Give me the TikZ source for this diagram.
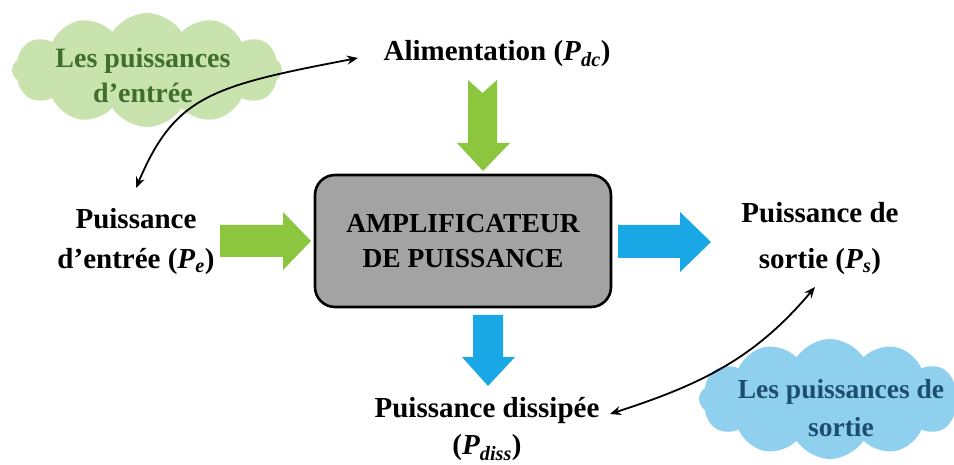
\documentclass[tikz,border=0pt]{standalone}
\usepackage{fontspec}
\setmainfont{Liberation Serif}
\usetikzlibrary{shapes.symbols,arrows.meta}
\definecolor{leafgreen}{HTML}{8CC63F}
\definecolor{skyblue}{HTML}{1AA7E6}
\definecolor{cloudgreen}{HTML}{C9E3AE}
\definecolor{cloudblue}{HTML}{8FD0EF}
\definecolor{txtgreen}{HTML}{3F6E2E}
\definecolor{txtblue}{HTML}{1D4E6E}
\definecolor{boxgray}{HTML}{A3A3A3}
\newcommand{\Pw}[1]{(\textbf{\textit{P}}\textsubscript{\textbf{\textit{#1}}})}
\tikzset{
  lbl/.style={font=\bfseries\fontsize{29}{38}\selectfont, align=center, inner sep=1pt},
  puff/.style={cloud, cloud puffs=12, cloud puff arc=115, draw=none, inner sep=0pt},
  pufftext/.style={align=center, inner sep=1pt, font=\bfseries\fontsize{28}{35}\selectfont},
  link/.style={line width=1.8pt, {Stealth[length=11pt,width=9pt]}-{Stealth[length=11pt,width=9pt]}},
  fatg/.style={fill=leafgreen, draw=none},
  fatb/.style={fill=skyblue, draw=none}
}
\begin{document}
\begin{tikzpicture}[x=1pt,y=1pt]
\useasboundingbox (0,0) rectangle (954,-465);
% clouds
\node[puff, fill=cloudgreen, minimum width=270, minimum height=114] (cin) at (147,-70) {};
\node[pufftext, text=txtgreen] (cint) at (143,-75) {Les puissances\\d'entrée};
\node[puff, fill=cloudblue, minimum width=262, minimum height=120] (cout) at (830,-399) {};
\node[pufftext, text=txtblue, font=\bfseries\fontsize{27.5}{38}\selectfont]
  (coutt) at (841,-408) {Les puissances de\\sortie};
% central block
\node[draw=black, line width=2.6pt, fill=boxgray, rounded corners=20pt,
  minimum width=296, minimum height=132, font=\bfseries\fontsize{27.5}{35}\selectfont, align=center]
  (amp) at (463,-241) {AMPLIFICATEUR\\DE PUISSANCE};
% labels
\node[lbl] (alim) at (497,-54) {Alimentation \Pw{dc}};
\node[lbl] (pin) at (136,-242) {Puissance\\[2pt]d'entrée \Pw{e}};
\node[lbl] (pout) at (820,-239) {Puissance de\\[8pt]sortie \Pw{s}};
\node[lbl] (pdis) at (487,-429.5) {Puissance dissipée\\[-1pt]\Pw{diss}};
% block arrows
\fill[fatg] (468,-80) -- (482.5,-93) -- (497,-80) -- (497,-143) -- (510,-143)
  -- (483,-171) -- (457,-143) -- (468,-143) -- cycle;
\fill[fatg] (220,-225) -- (283,-225) -- (283,-212) -- (311,-241) -- (283,-270)
  -- (283,-257) -- (220,-257) -- cycle;
\fill[fatb] (618,-225) -- (680,-225) -- (680,-212) -- (711,-242) -- (680,-272)
  -- (680,-258) -- (618,-258) -- cycle;
\fill[fatb] (473,-315) -- (503,-315) -- (503,-357) -- (515,-357) -- (488,-386)
  -- (462,-357) -- (473,-357) -- cycle;
% curved connectors
\coordinate (a1) at (136,-188);
\coordinate (a2) at (358,-58);
\coordinate (b1) at (610,-414);
\coordinate (b2) at (815,-287);
\draw[link] (a1) .. controls (175,-96) and (211,-86) .. (a2);
\draw[link] (b1) to[out=18, in=230, looseness=1.0] (b2);
\end{tikzpicture}
\end{document}
